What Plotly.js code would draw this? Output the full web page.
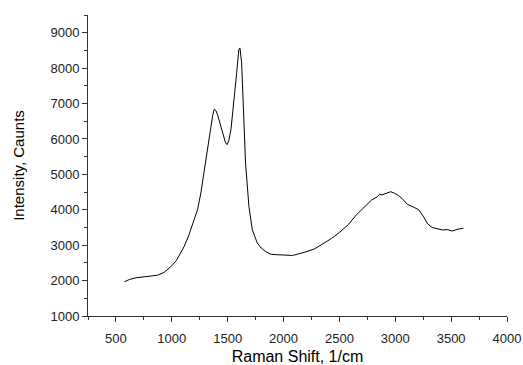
<!DOCTYPE html>
<html>
<head>
<meta charset="utf-8">
<script src="https://cdn.plot.ly/plotly-3.0.1.min.js"></script>
<style>html,body{margin:0;padding:0;background:#fff;}#chart{width:523px;height:365px;}</style>
</head>
<body>
<div id="chart"></div>
<script>
const ramanShift = [575,620,680,740,800,870,930,990,1040,1080,1110,1150,1200,1230,1260,1300,1340,1365,1380,1395,1410,1450,1480,1495,1510,1530,1555,1580,1600,1610,1625,1640,1660,1690,1720,1765,1800,1840,1890,1950,2000,2080,2140,2200,2280,2350,2430,2500,2580,2650,2700,2750,2790,2840,2860,2880,2920,2960,2990,3030,3060,3110,3160,3210,3250,3290,3330,3380,3420,3470,3510,3560,3610];
const intensity = [1965,2030,2080,2100,2110,2150,2230,2390,2560,2780,2960,3260,3720,4000,4470,5310,6150,6650,6840,6800,6680,6260,5900,5840,5950,6280,7000,7850,8520,8570,8150,6730,5320,4100,3440,3060,2920,2820,2740,2730,2720,2710,2760,2810,2900,3030,3190,3360,3580,3850,4000,4160,4280,4370,4440,4420,4470,4510,4470,4400,4320,4150,4080,4000,3820,3600,3500,3460,3430,3440,3400,3450,3480];
const xTickVals = [500,1000,1500,2000,2500,3000,3500,4000];
const yTickVals = [1000,2000,3000,4000,5000,6000,7000,8000,9000];

const font = 'Arial, "Liberation Sans", sans-serif';
Plotly.newPlot('chart', [{
  x: ramanShift, y: intensity, type: 'scatter', mode: 'lines',
  line: {color: '#000', width: 1}, hoverinfo: 'none'
}], {
  width: 523, height: 365,
  margin: {l: 88, r: 16, t: 15, b: 49},
  paper_bgcolor: '#fff', plot_bgcolor: '#fff',
  showlegend: false,
  xaxis: {
    range: [250, 4000], tickvals: xTickVals, showgrid: false, zeroline: false,
    showline: true, linecolor: '#333', linewidth: 1,
    ticks: 'outside', ticklen: 5, tickcolor: '#333', ticklabelstandoff: 5,
    minor: {ticks: 'outside', dtick: 250, tick0: 0, ticklen: 3, tickcolor: '#333'},
    tickfont: {family: font, size: 13, color: '#222'},
    title: {text: 'Raman Shift, 1/cm', font: {family: font, size: 16, color: '#000'}, standoff: 8}
  },
  yaxis: {
    range: [1000, 9500], tickvals: yTickVals, showgrid: false, zeroline: false,
    showline: true, linecolor: '#333', linewidth: 1,
    ticks: 'outside', ticklen: 5, tickcolor: '#333',
    minor: {ticks: 'outside', dtick: 500, tick0: 0, ticklen: 3, tickcolor: '#333'},
    tickfont: {family: font, size: 13, color: '#222'},
    title: {text: 'Intensity, Caunts', font: {family: font, size: 15, color: '#000'}, standoff: 22}
  }
}, {staticPlot: true});
</script>
</body>
</html>
